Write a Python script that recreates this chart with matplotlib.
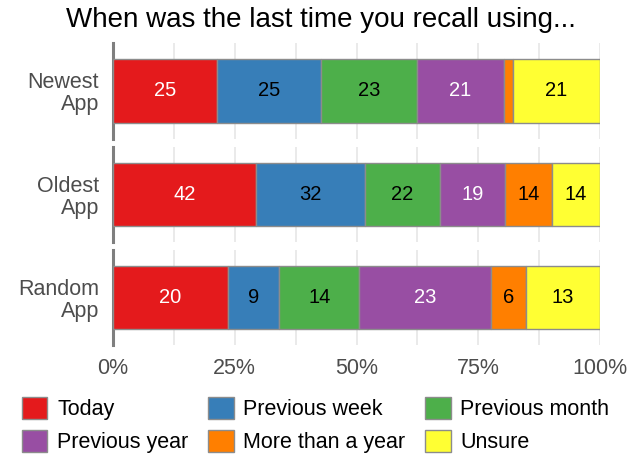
import matplotlib
matplotlib.use("Agg")
import matplotlib.pyplot as plt
from matplotlib.patches import Patch
import numpy as np

plt.rcParams['font.family'] = ['Liberation Sans', 'DejaVu Sans']

title = "When was the last time you recall using..."
apps = ["Newest\nApp", "Oldest\nApp", "Random\nApp"]
categories = ["Today", "Previous week", "Previous month", "Previous year",
              "More than a year", "Unsure"]
newest = [25, 25, 23, 21, 2, 21]
oldest = [42, 32, 22, 19, 14, 14]
random_app = [20, 9, 14, 23, 6, 13]
rows = [newest, oldest, random_app]
colors = ["#E41A1C", "#377EB8", "#4DAF4A", "#984EA3", "#FF7F00", "#FFFF33"]
text_colors = ["white", "black", "black", "white", "black", "black"]
xticks = [0, 0.25, 0.5, 0.75, 1.0]
xticklabels = ["0%", "25%", "50%", "75%", "100%"]

W, H = 641, 455
fig = plt.figure(figsize=(W / 100, H / 100), dpi=100)

panel_px = [(43, 139), (147, 242), (250, 345)]
left_px, right_px = 113, 600
gray = "#4d4d4d"

axes = []
for i, (vals, (top, bot)) in enumerate(zip(rows, panel_px)):
    ax = fig.add_axes([left_px / W, 1 - bot / H, (right_px - left_px) / W, (bot - top) / H])
    axes.append(ax)
    total = sum(vals)
    props = [v / total for v in vals]
    starts = np.cumsum([0] + props[:-1])
    for j, (p, s) in enumerate(zip(props, starts)):
        ax.barh(0, p, left=s, height=0.667, color=colors[j], edgecolor="#8c8c8c",
                linewidth=1.0, zorder=3)
        if vals[j] >= 5:
            ax.text(s + p / 2, 0, str(vals[j]), ha="center", va="center",
                    fontsize=14.5, color=text_colors[j], zorder=4)
    ax.set_xlim(0, 1)
    ax.set_ylim(-0.5, 0.5)
    ax.set_xticks(xticks)
    ax.set_xticks(np.arange(0.125, 1, 0.25), minor=True)
    ax.grid(True, axis="x", which="both", color="#e6e6e6", linewidth=1.2, zorder=0)
    ax.set_yticks([0])
    ax.set_yticklabels([apps[i]], fontsize=15.5, color=gray, linespacing=1.05)
    ax.tick_params(axis="y", length=0, pad=10)
    ax.tick_params(axis="x", which="both", length=0)
    for sp in ["top", "right", "bottom"]:
        ax.spines[sp].set_visible(False)
    ax.spines["left"].set_color("#7f7f7f")
    ax.spines["left"].set_linewidth(2.2)
    if i < 2:
        ax.set_xticklabels([])
    else:
        ax.set_xticklabels(xticklabels, fontsize=15.5, color=gray)
        ax.tick_params(axis="x", pad=9)

fig.text(0.5, 1 - 20 / H, title, ha="center", va="center", fontsize=20, color="black")

handles = [Patch(facecolor=c, edgecolor="#8c8c8c", linewidth=1.0) for c in colors]
order = [0, 3, 1, 4, 2, 5]
fig.legend([handles[k] for k in order], [categories[k] for k in order],
           ncol=3, loc="upper left", bbox_to_anchor=(13 / W, 1 - 388 / H),
           frameon=False, fontsize=15.5, handlelength=1.2, handleheight=1.2,
           handletextpad=0.45, columnspacing=0.9, labelspacing=0.45, borderaxespad=0)

fig.savefig("out.png", dpi=100)
